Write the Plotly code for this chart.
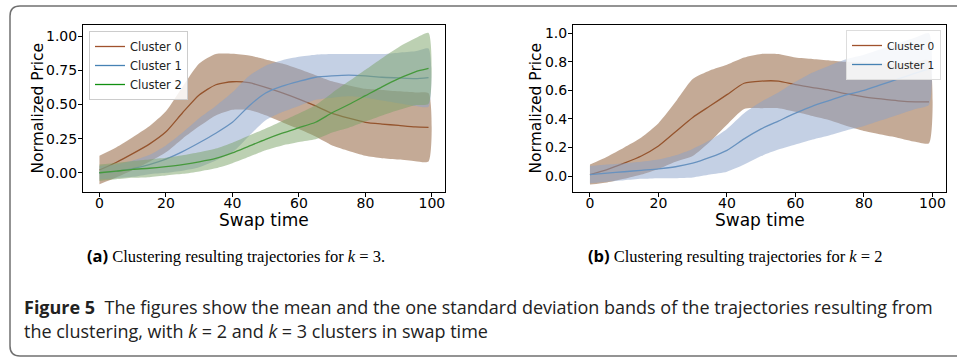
import plotly.graph_objects as go

# ---------------- data ----------------
swap_time = [0, 5, 10, 15, 20, 25, 30, 35, 40, 45, 50, 55, 60, 65, 70, 75, 80, 85, 90, 95, 99]
x_ticks = [0, 20, 40, 60, 80, 100]
y_ticks_a = [0.0, 0.25, 0.5, 0.75, 1.0]
y_ticks_b = [0.0, 0.2, 0.4, 0.6, 0.8, 1.0]
cluster_names_a = ["Cluster 0", "Cluster 1", "Cluster 2"]
cluster_names_b = ["Cluster 0", "Cluster 1"]

# (a) k = 3
k3_c0_mean = [0.02, 0.075, 0.14, 0.21, 0.30, 0.44, 0.57, 0.645, 0.667, 0.66, 0.626, 0.585, 0.54, 0.49, 0.435, 0.40, 0.37, 0.357, 0.347, 0.337, 0.333]
k3_c0_std = [0.105, 0.11, 0.12, 0.13, 0.15, 0.19, 0.23, 0.225, 0.205, 0.20, 0.205, 0.215, 0.22, 0.225, 0.235, 0.24, 0.245, 0.25, 0.25, 0.252, 0.25]
k3_c1_mean = [0.0, 0.01, 0.03, 0.06, 0.10, 0.155, 0.22, 0.29, 0.37, 0.49, 0.585, 0.635, 0.67, 0.70, 0.71, 0.715, 0.71, 0.70, 0.695, 0.69, 0.697]
k3_c1_std = [0.05, 0.05, 0.06, 0.07, 0.10, 0.14, 0.18, 0.20, 0.22, 0.22, 0.20, 0.19, 0.18, 0.165, 0.16, 0.155, 0.16, 0.17, 0.185, 0.20, 0.213]
k3_c2_mean = [0.0, 0.012, 0.025, 0.033, 0.045, 0.06, 0.08, 0.105, 0.145, 0.195, 0.245, 0.29, 0.33, 0.37, 0.44, 0.50, 0.565, 0.63, 0.69, 0.74, 0.765]
k3_c2_std = [0.06, 0.06, 0.062, 0.065, 0.065, 0.068, 0.07, 0.072, 0.075, 0.078, 0.08, 0.09, 0.105, 0.125, 0.145, 0.17, 0.19, 0.21, 0.23, 0.245, 0.26]

# (b) k = 2
k2_c0_mean = [0.01, 0.045, 0.09, 0.14, 0.21, 0.31, 0.41, 0.49, 0.57, 0.65, 0.665, 0.665, 0.64, 0.62, 0.60, 0.575, 0.555, 0.54, 0.527, 0.52, 0.52]
k2_c0_std = [0.07, 0.09, 0.11, 0.13, 0.16, 0.21, 0.27, 0.25, 0.21, 0.18, 0.19, 0.19, 0.19, 0.20, 0.21, 0.225, 0.24, 0.25, 0.26, 0.28, 0.29]
k2_c1_mean = [0.01, 0.02, 0.03, 0.04, 0.05, 0.065, 0.09, 0.13, 0.18, 0.26, 0.33, 0.385, 0.44, 0.49, 0.53, 0.57, 0.60, 0.64, 0.68, 0.72, 0.75]
k2_c1_std = [0.06, 0.06, 0.06, 0.06, 0.065, 0.08, 0.10, 0.12, 0.15, 0.18, 0.19, 0.20, 0.22, 0.235, 0.245, 0.25, 0.25, 0.25, 0.25, 0.25, 0.25]

line_colors = ["#a0522d", "#4682b4", "#119011"]
band_colors = ["rgba(137,85,45,0.5)", "rgba(137,161,201,0.5)", "rgba(121,161,101,0.5)"]

W, H = 957, 359


def px(x):
    return x / W


def py(y):
    return 1 - y / H


fig = go.Figure()


def add_cluster(name, mean, std, ci, xa, ya, legend):
    upper = [m + s for m, s in zip(mean, std)]
    lower = [m - s for m, s in zip(mean, std)]
    fig.add_trace(go.Scatter(
        x=swap_time, y=mean, mode="lines", name=name,
        line=dict(color=line_colors[ci], width=1.3, shape="spline", smoothing=0.6),
        xaxis=xa, yaxis=ya, legend=legend, hoverinfo="skip"))
    fig.add_trace(go.Scatter(
        x=swap_time + swap_time[::-1], y=upper + lower[::-1],
        fill="toself", fillcolor=band_colors[ci], mode="lines",
        line=dict(width=0, shape="spline", smoothing=0.6),
        showlegend=False, xaxis=xa, yaxis=ya, hoverinfo="skip"))


add_cluster(cluster_names_a[0], k3_c0_mean, k3_c0_std, 0, "x", "y", "legend")
add_cluster(cluster_names_a[1], k3_c1_mean, k3_c1_std, 1, "x", "y", "legend")
add_cluster(cluster_names_a[2], k3_c2_mean, k3_c2_std, 2, "x", "y", "legend")
add_cluster(cluster_names_b[0], k2_c0_mean, k2_c0_std, 0, "x2", "y2", "legend2")
add_cluster(cluster_names_b[1], k2_c1_mean, k2_c1_std, 1, "x2", "y2", "legend2")

tick_font = dict(family="DejaVu Sans", size=14, color="black")
axis_common = dict(showline=True, linecolor="black", linewidth=1, mirror=True,
                   ticks="outside", ticklen=4, tickcolor="black", tickwidth=1,
                   showgrid=False, zeroline=False, tickfont=tick_font)
xcommon = dict(axis_common, ticklabelstandoff=-6)
ycommon = dict(axis_common, ticklabelstandoff=-2)

fig.update_layout(
    width=W, height=H,
    margin=dict(l=0, r=0, t=0, b=0),
    paper_bgcolor="white", plot_bgcolor="white",
    xaxis=dict(domain=[px(83), px(445)], range=[-4.95, 103.95], tickvals=x_ticks,
               anchor="y", **xcommon),
    yaxis=dict(domain=[py(192), py(25)], range=[-0.141, 1.083], tickvals=y_ticks_a,
               tickformat=".2f", anchor="x", **ycommon),
    xaxis2=dict(domain=[px(573), px(946)], range=[-4.95, 103.95], tickvals=x_ticks,
                anchor="y2", **xcommon),
    yaxis2=dict(domain=[py(192), py(25)], range=[-0.112, 1.058], tickvals=y_ticks_b,
                tickformat=".1f", anchor="x2", **ycommon),
    legend=dict(x=px(89), y=py(31), xanchor="left", yanchor="top",
                bgcolor="rgba(255,255,255,0.85)", bordercolor="#cccccc", borderwidth=1,
                font=dict(family="DejaVu Sans", size=11.5, color="#222"),
                tracegroupgap=0, itemwidth=30),
    legend2=dict(x=px(941), y=py(30), xanchor="right", yanchor="top",
                 bgcolor="rgba(255,255,255,0.85)", bordercolor="#dddddd", borderwidth=1,
                 font=dict(family="DejaVu Sans", size=10.5, color="#222"),
                 tracegroupgap=0, itemwidth=30),
    showlegend=True,
)

ann = []
ann.append(dict(text="Normalized Price", x=px(37), y=py(108.5), textangle=-90, font=dict(family="DejaVu Sans", size=15.5, color="black")))
ann.append(dict(text="Normalized Price", x=px(535), y=py(108.5), textangle=-90, font=dict(family="DejaVu Sans", size=15.5, color="black")))
ann.append(dict(text="Swap time", x=px(264), y=py(220), font=dict(family="DejaVu Sans", size=17, color="black")))
ann.append(dict(text="Swap time", x=px(760), y=py(220), font=dict(family="DejaVu Sans", size=17, color="black")))
for a in ann:
    a.update(xref="paper", yref="paper", showarrow=False, xanchor="center", yanchor="middle")

cap_font = dict(family="Liberation Serif", size=16.5, color="black")
sub_a = dict(text="<b><span style='font-family:Open Sans'>(a)</span></b> Clustering resulting trajectories for <i>k</i> = 3.",
             x=px(85), y=py(255), font=cap_font)
sub_b = dict(text="<b><span style='font-family:Open Sans'>(b)</span></b> Clustering resulting trajectories for <i>k</i> = 2",
             x=px(586), y=py(255), font=cap_font)
fig_font = dict(family="Open Sans", size=18, color="#222")
line1 = dict(text="<b>Figure 5</b>\u00a0 The figures show the mean and the one standard deviation bands of the trajectories resulting from",
             x=px(22), y=py(307), font=fig_font)
line2 = dict(text="the clustering, with <i>k</i> = 2 and <i>k</i> = 3 clusters in swap time",
             x=px(22), y=py(331), font=fig_font)
for a in [sub_a, sub_b, line1, line2]:
    a.update(xref="paper", yref="paper", showarrow=False, xanchor="left", yanchor="middle")
    ann.append(a)
fig.update_layout(annotations=ann)

# rounded frame around the figure
L, T, B, R, r = 10, 6, 356, 980, 10
path = (f"M {px(R)},{py(T)} L {px(L + r)},{py(T)} Q {px(L)},{py(T)} {px(L)},{py(T + r)} "
        f"L {px(L)},{py(B - r)} Q {px(L)},{py(B)} {px(L + r)},{py(B)} L {px(R)},{py(B)}")
fig.add_shape(type="path", path=path, xref="paper", yref="paper",
              line=dict(color="#707070", width=1.5))

fig.write_html("out.html")
